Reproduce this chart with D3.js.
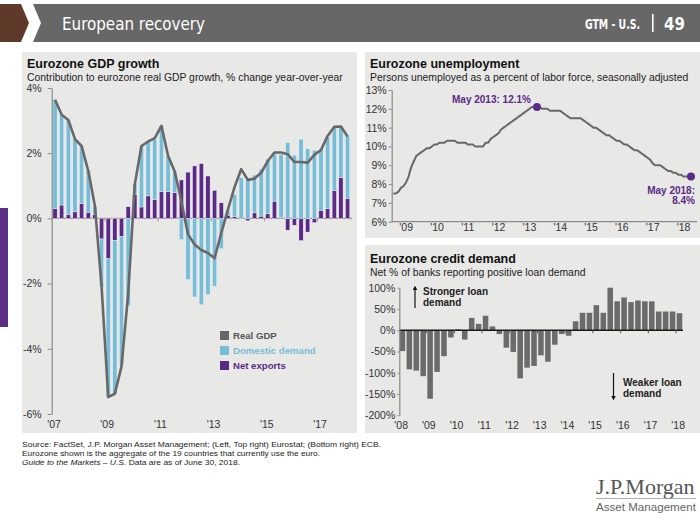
<!DOCTYPE html>
<html><head><meta charset="utf-8">
<script src="https://cdn.jsdelivr.net/npm/d3@7"></script>
<style>body{margin:0;background:#fff;} svg{display:block;font-family:"Liberation Sans",Arial,sans-serif;}</style>
</head><body><svg id="c" width="700" height="525"></svg>
<script>
// ---------- DATA ----------
const gdpQuarters = ["2007Q1","2007Q2","2007Q3","2007Q4","2008Q1","2008Q2","2008Q3","2008Q4","2009Q1","2009Q2","2009Q3","2009Q4","2010Q1","2010Q2","2010Q3","2010Q4","2011Q1","2011Q2","2011Q3","2011Q4","2012Q1","2012Q2","2012Q3","2012Q4","2013Q1","2013Q2","2013Q3","2013Q4","2014Q1","2014Q2","2014Q3","2014Q4","2015Q1","2015Q2","2015Q3","2015Q4","2016Q1","2016Q2","2016Q3","2016Q4","2017Q1","2017Q2","2017Q3","2017Q4","2018Q1"];
const domesticDemand = [3.34,2.77,2.91,2.23,1.76,1.27,0.25,-1.47,-4.23,-4.71,-3.95,-2.68,0.31,1.87,1.67,1.85,2.02,1.10,0.65,-0.65,-1.88,-2.41,-2.65,-2.34,-2.08,-0.93,0.15,0.69,1.25,1.25,1.16,1.44,1.68,1.44,1.95,2.33,1.94,2.43,2.14,2.09,1.87,2.18,1.93,1.59,1.91];
const netExports = [0.30,0.41,0.12,0.20,0.46,0.19,0.12,-0.63,-1.24,-0.67,-0.56,0.36,0.74,0.35,0.69,0.58,0.82,0.82,0.79,1.18,1.42,1.61,1.68,1.30,0.86,0.48,0.10,0.05,0.00,-0.07,0.17,0.07,0.14,0.53,0.02,-0.36,-0.21,-0.68,-0.42,-0.13,0.25,0.30,0.86,1.25,0.62];
const realGDP = [3.64,3.18,3.02,2.43,2.22,1.46,0.38,-2.08,-5.48,-5.38,-4.54,-2.32,1.05,2.22,2.36,2.46,2.84,1.92,1.44,0.53,-0.49,-0.80,-0.97,-1.06,-1.22,-0.45,0.27,0.96,1.51,1.18,1.22,1.40,1.76,2.02,2.02,1.97,1.73,1.73,1.71,1.95,2.10,2.53,2.81,2.82,2.51];
const gdpTicks = [-6,-4,-2,0,2,4];
const gdpYearLabels = ["'07","'09","'11","'13","'15","'17"];
const gdpYearQuarters = ["2007Q1","2009Q1","2011Q1","2013Q1","2015Q1","2017Q1"];

const unempStart = "2008-09";
const unempRate = [7.5,7.5,7.6,7.8,
 7.9,8.1,8.4,8.9,9.2,9.5,9.6,9.7,9.8,9.9,9.9,10.0,
 10.1,10.1,10.2,10.2,10.2,10.3,10.3,10.3,10.3,10.2,10.2,10.2,
 10.2,10.1,10.1,10.1,10.0,10.0,10.0,10.0,10.2,10.2,10.4,10.5,
 10.6,10.7,10.9,11.0,11.1,11.2,11.3,11.4,11.5,11.6,11.7,11.8,
 11.9,12.0,12.1,12.1,12.1,12.1,12.0,12.0,12.0,11.9,11.9,11.9,
 11.9,11.9,11.8,11.7,11.6,11.5,11.5,11.5,11.5,11.5,11.4,11.3,
 11.2,11.1,11.0,11.0,10.9,10.8,10.7,10.6,10.6,10.5,10.4,10.3,
 10.3,10.2,10.1,10.1,10.0,9.9,9.8,9.8,9.7,9.6,9.5,9.4,
 9.3,9.1,9.0,9.0,9.0,8.9,8.8,8.7,8.7,8.6,8.6,8.5,
 8.5,8.4,8.4,8.4,8.4];
const unempTicks = [6,7,8,9,10,11,12,13];
const unempYearLabels = ["'09","'10","'11","'12","'13","'14","'15","'16","'17","'18"];
const unempYears = [2009,2010,2011,2012,2013,2014,2015,2016,2017,2018];
const unempHighlights = [{date:"2013-05", value:12.1, label:["May 2013: 12.1%"]},{date:"2018-05", value:8.4, label:["May 2018:","8.4%"]}];

const creditQuarters = ["2008Q1","2008Q2","2008Q3","2008Q4","2009Q1","2009Q2","2009Q3","2009Q4","2010Q1","2010Q2","2010Q3","2010Q4","2011Q1","2011Q2","2011Q3","2011Q4","2012Q1","2012Q2","2012Q3","2012Q4","2013Q1","2013Q2","2013Q3","2013Q4","2014Q1","2014Q2","2014Q3","2014Q4","2015Q1","2015Q2","2015Q3","2015Q4","2016Q1","2016Q2","2016Q3","2016Q4","2017Q1","2017Q2","2017Q3","2017Q4","2018Q1"];
const creditDemand = [-49,-92,-95,-108,-161,-98,-61,-17,2,-22,29,15,34,9,-9,-41,-51,-113,-88,-84,-59,-74,-34,-9,-13,21,41,41,59,41,100,68,77,66,70,68,68,44,44,44,40];
const creditTicks = [-200,-150,-100,-50,0,50,100];
const creditYearLabels = ["'08","'09","'10","'11","'12","'13","'14","'15","'16","'17","'18"];
const creditYearQuarters = ["2008Q1","2009Q1","2010Q1","2011Q1","2012Q1","2013Q1","2014Q1","2015Q1","2016Q1","2017Q1","2018Q1"];

// ---------- STYLE ----------
const C = {blue:"#78bdd7", purple:"#5b2a86", line:"#686868", panel:"#e8e8e7", text:"#333", axis:"#8a8a8a"};
const svg = d3.select("#c");

// header
svg.append("polygon").attr("points","0,4 21,4 29,23 21,42 0,42").attr("fill","#5f3a2b");
svg.append("polygon").attr("points","33,4 700,4 700,42 33,42 41,23").attr("fill","#676767");
svg.append("text").attr("x",62).attr("y",30).attr("fill","#fff").attr("font-size",18)
  .attr("font-family","'Liberation Sans Narrow','DejaVu Sans Condensed','Roboto',sans-serif")
  .attr("textLength",143).attr("lengthAdjust","spacingAndGlyphs").text("European recovery");
svg.append("text").attr("x",585).attr("y",29).attr("fill","#fff").attr("font-size",14).attr("font-weight","bold")
  .attr("font-family","'Liberation Sans Narrow','DejaVu Sans Condensed',sans-serif")
  .attr("textLength",55).attr("lengthAdjust","spacingAndGlyphs").text("GTM - U.S.");
svg.append("rect").attr("x",652).attr("y",14).attr("width",1.6).attr("height",18).attr("fill","#fff");
svg.append("text").attr("x",664).attr("y",30).attr("fill","#fff").attr("font-size",17).attr("font-weight","bold")
  .attr("font-family","'Liberation Sans Narrow','DejaVu Sans Condensed',sans-serif")
  .attr("textLength",21).attr("lengthAdjust","spacingAndGlyphs").text("49");

// side accent
svg.append("rect").attr("x",0).attr("y",208).attr("width",8).attr("height",119).attr("fill","#5c2e86");

// panels
svg.append("rect").attr("x",22).attr("y",52).attr("width",335).attr("height",381).attr("fill",C.panel);
svg.append("rect").attr("x",365).attr("y",52).attr("width",335).attr("height",186).attr("fill",C.panel);
svg.append("rect").attr("x",365).attr("y",245).attr("width",335).attr("height",188).attr("fill",C.panel);

function title(x,y,t,sub){
  svg.append("text").attr("x",x).attr("y",y).attr("font-size",12.5).attr("font-weight","bold").attr("fill","#111").text(t);
  svg.append("text").attr("x",x).attr("y",y+12.5).attr("font-size",10.4).attr("fill","#222").text(sub);
}
title(27,68,"Eurozone GDP growth","Contribution to eurozone real GDP growth, % change year-over-year");
title(370,68,"Eurozone unemployment","Persons unemployed as a percent of labor force, seasonally adjusted");
title(370,263,"Eurozone credit demand","Net % of banks reporting positive loan demand");

function styleAxis(g){
  g.select(".domain").attr("stroke",C.axis).attr("stroke-width",1.2);
  g.selectAll(".tick line").attr("stroke",C.axis);
  g.selectAll(".tick text").attr("fill",C.text).attr("font-size",10.5).attr("font-family","'Liberation Sans',Arial,sans-serif");
}

// ---------- LEFT: GDP ----------
(function(){
  const x = d3.scaleBand().domain(gdpQuarters).range([51.7,350.9]).paddingInner(0.36).paddingOuter(0.18);
  const y = d3.scaleLinear().domain([-6,4]).range([414,88]);
  const rows = gdpQuarters.map((q,i)=>({q, nx:netExports[i], dd:domesticDemand[i]}));
  const stack = d3.stack().keys(["nx","dd"]).offset(d3.stackOffsetDiverging)(rows);
  const colors = {nx:C.purple, dd:C.blue};
  const g = svg.append("g");
  g.append("line").attr("x1",51.7).attr("x2",352).attr("y1",y(0)).attr("y2",y(0)).attr("stroke","#9a9a9a").attr("stroke-width",1.3);
  const step = x.step();
  g.selectAll(".yt").data(gdpYearQuarters.slice(1)).join("line")
    .attr("x1",d=>x(d)-(step-x.bandwidth())/2).attr("x2",d=>x(d)-(step-x.bandwidth())/2)
    .attr("y1",y(0)).attr("y2",y(0)+3).attr("stroke","#9a9a9a");
  stack.forEach(s=>{
    g.selectAll(".b"+s.key).data(s).join("rect")
      .attr("x",d=>x(d.data.q)).attr("width",x.bandwidth())
      .attr("y",d=>y(Math.max(d[0],d[1]))).attr("height",d=>Math.abs(y(d[0])-y(d[1])))
      .attr("fill",colors[s.key]).attr("stroke","#f4f4f4").attr("stroke-width",0.4);
  });
  const line = d3.line().x((d,i)=>x(gdpQuarters[i])+x.bandwidth()/2).y(d=>y(d));
  g.append("path").datum(realGDP).attr("d",line).attr("fill","none").attr("stroke",C.line).attr("stroke-width",2.6).attr("stroke-linejoin","round");
  const ya = g.append("g").attr("transform","translate(51.7,0)")
    .call(d3.axisLeft(y).tickValues(gdpTicks).tickFormat(d=>d+"%").tickSize(4).tickSizeOuter(0).tickPadding(6));
  styleAxis(ya);
  g.selectAll(".xl").data(gdpYearLabels).join("text")
    .attr("x",(d,i)=>x(gdpYearQuarters[i])+x.bandwidth()/2-1).attr("y",428)
    .attr("text-anchor","middle").attr("font-size",10.5).attr("fill",C.text).text(d=>d);
  const leg = [["Real GDP","#666"],["Domestic demand",C.blue],["Net exports",C.purple]];
  leg.forEach((l,i)=>{
    g.append("rect").attr("x",220).attr("y",331+i*15).attr("width",9).attr("height",9).attr("fill",l[1]);
    g.append("text").attr("x",233).attr("y",339+i*15).attr("font-size",9.6).attr("font-weight","bold").attr("fill",l[1]==="#666"?"#555":l[1]).text(l[0]);
  });
})();

// ---------- TOP RIGHT: UNEMPLOYMENT ----------
(function(){
  const parse = d3.timeParse("%Y-%m");
  const t0 = parse(unempStart);
  const dates = unempRate.map((v,i)=>d3.timeMonth.offset(t0,i));
  const x = d3.scaleTime().domain([dates[0],dates[dates.length-1]]).range([393.3,691]);
  const y = d3.scaleLinear().domain([6,13]).range([221.7,90]);
  const g = svg.append("g");
  const ya = g.append("g").attr("transform","translate(391.7,0)")
    .call(d3.axisLeft(y).tickValues(unempTicks).tickFormat(d=>d+"%").tickSize(3).tickSizeOuter(0).tickPadding(2));
  styleAxis(ya);
  g.append("line").attr("x1",391.7).attr("x2",697).attr("y1",221.7).attr("y2",221.7).attr("stroke",C.axis).attr("stroke-width",1.2);
  g.selectAll(".xl").data(unempYearLabels).join("text")
    .attr("x",(d,i)=>x(new Date(unempYears[i],1,1))).attr("y",231)
    .attr("text-anchor","middle").attr("font-size",10.5).attr("fill",C.text).text(d=>d);
  const line = d3.line().x((d,i)=>x(dates[i])).y(d=>y(d)).curve(d3.curveLinear);
  g.append("path").datum(unempRate).attr("d",line).attr("fill","none").attr("stroke",C.line).attr("stroke-width",2).attr("stroke-linejoin","round");
  unempHighlights.forEach((h,k)=>{
    const cx = x(parse(h.date)), cy = y(h.value);
    g.append("circle").attr("cx",cx).attr("cy",cy).attr("r",4).attr("fill",C.purple);
    h.label.forEach((t,j)=>{
      const tx = g.append("text").attr("font-size",10).attr("font-weight","bold").attr("fill",C.purple).text(t);
      if(k===0){ tx.attr("x",cx-6).attr("y",cy-4).attr("text-anchor","end"); }
      else { tx.attr("x",695).attr("y",cy+17+j*10.5).attr("text-anchor","end"); }
    });
  });
})();

// ---------- BOTTOM RIGHT: CREDIT DEMAND ----------
(function(){
  const x = d3.scaleBand().domain(creditQuarters).range([399.3,682.6]).paddingInner(0.2).paddingOuter(0.05);
  const y = d3.scaleLinear().domain([-200,100]).range([415.3,287.7]);
  const g = svg.append("g");
  g.selectAll(".cb").data(creditDemand).join("rect")
    .attr("x",(d,i)=>x(creditQuarters[i])).attr("width",x.bandwidth())
    .attr("y",d=>y(Math.max(0,d))).attr("height",d=>Math.abs(y(d)-y(0)))
    .attr("fill","#6b6b6b");
  g.append("line").attr("x1",399.3).attr("x2",683).attr("y1",y(0)).attr("y2",y(0)).attr("stroke","#1a1a1a").attr("stroke-width",1.3);
  const step = x.step();
  g.selectAll(".yt").data(creditYearQuarters.slice(1)).join("line")
    .attr("x1",d=>x(d)-(step-x.bandwidth())/2).attr("x2",d=>x(d)-(step-x.bandwidth())/2)
    .attr("y1",y(0)).attr("y2",y(0)+3).attr("stroke","#555");
  const ya = g.append("g").attr("transform","translate(399.3,0)")
    .call(d3.axisLeft(y).tickValues(creditTicks).tickFormat(d=>d+"%").tickSize(2).tickSizeOuter(0).tickPadding(2));
  styleAxis(ya);
  g.selectAll(".xl").data(creditYearLabels).join("text")
    .attr("x",(d,i)=>x(creditYearQuarters[i])+1.5).attr("y",429)
    .attr("text-anchor","middle").attr("font-size",10.5).attr("fill",C.text).text(d=>d);
  const defs = svg.append("defs");
  defs.append("marker").attr("id","ah").attr("viewBox","0 0 10 10").attr("refX",5).attr("refY",5)
    .attr("markerWidth",4).attr("markerHeight",4).attr("orient","auto")
    .append("path").attr("d","M0,0 L10,5 L0,10 z").attr("fill","#111");
  g.append("line").attr("x1",415).attr("x2",415).attr("y1",308).attr("y2",288).attr("stroke","#111").attr("stroke-width",1.2).attr("marker-end","url(#ah)");
  g.append("line").attr("x1",613.5).attr("x2",613.5).attr("y1",373).attr("y2",398).attr("stroke","#111").attr("stroke-width",1.2).attr("marker-end","url(#ah)");
  [["Stronger loan",423,295],["demand",423,306],["Weaker loan",623,386],["demand",623,397]].forEach(a=>{
    g.append("text").attr("x",a[1]).attr("y",a[2]).attr("font-size",10).attr("font-weight","bold").attr("fill","#222").text(a[0]);
  });
})();

// ---------- FOOTER ----------
const foot = svg.append("g").attr("font-size",8).attr("fill","#222").attr("font-family","'Liberation Sans Narrow','Liberation Sans',Arial,sans-serif");
foot.append("text").attr("x",22).attr("y",447).attr("textLength",359).attr("lengthAdjust","spacingAndGlyphs").text("Source: FactSet, J.P. Morgan Asset Management; (Left, Top right) Eurostat; (Bottom right) ECB.");
foot.append("text").attr("x",22).attr("y",456).attr("textLength",298).attr("lengthAdjust","spacingAndGlyphs").text("Eurozone shown is the aggregate of the 19 countries that currently use the euro.");
const f3 = foot.append("text").attr("x",22).attr("y",465).attr("textLength",218).attr("lengthAdjust","spacingAndGlyphs");
f3.append("tspan").attr("font-style","italic").text("Guide to the Markets – U.S.");
f3.append("tspan").text(" Data are as of June 30, 2018.");

// logo
svg.append("text").attr("x",596).attr("y",494).attr("font-family","'Liberation Serif','Times New Roman',serif").attr("font-size",22).attr("fill","#555").text("J.P.Morgan");
svg.append("line").attr("x1",596).attr("x2",696).attr("y1",498.5).attr("y2",498.5).attr("stroke","#999").attr("stroke-width",0.8);
svg.append("text").attr("x",596).attr("y",511).attr("font-family","'Liberation Sans',Arial,sans-serif").attr("font-size",11.6).attr("fill","#666").text("Asset Management");
</script></body></html>
